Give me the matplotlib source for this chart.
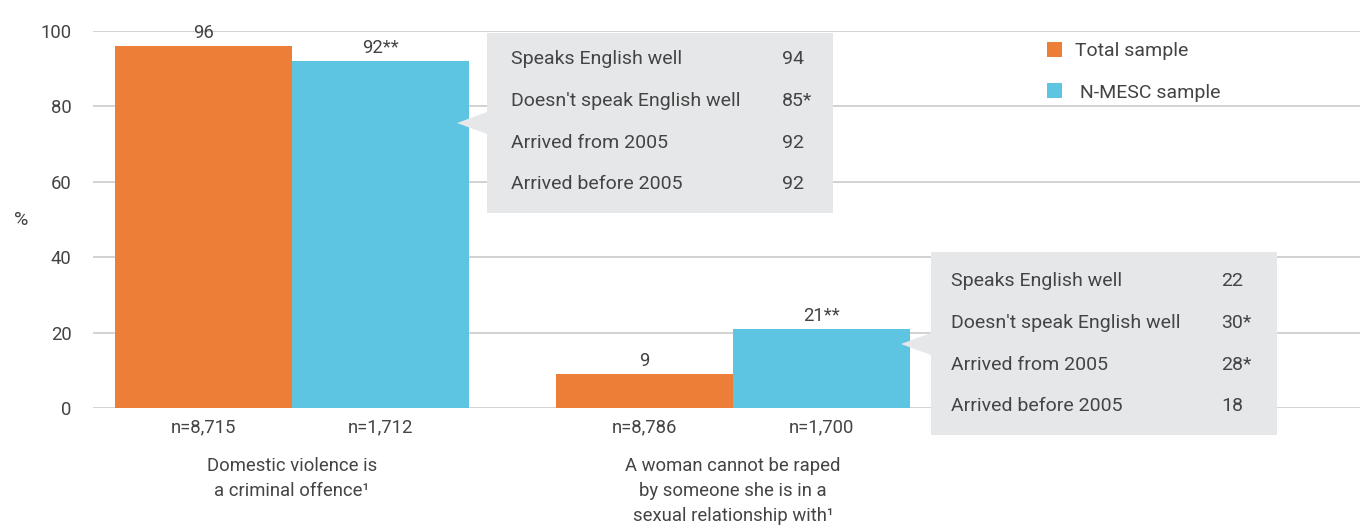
import matplotlib
matplotlib.use("Agg")
import matplotlib.pyplot as plt
from matplotlib.patches import Polygon, Patch
import numpy as np

plt.rcParams["font.family"] = ["Roboto", "DejaVu Sans"]

# data
categories = ["Domestic violence is\na criminal offence\u00b9",
              "A woman cannot be raped\nby someone she is in a\nsexual relationship with\u00b9"]
total = [96, 9]
nmesc = [92, 21]
total_labels = ["96", "9"]
nmesc_labels = ["92**", "21**"]
n_total = ["n=8,715", "n=8,786"]
n_nmesc = ["n=1,712", "n=1,700"]
callout_rows = ["Speaks English well", "Doesn't speak English well",
                "Arrived from 2005", "Arrived before 2005"]
callout_1 = ["94", "85*", "92", "92"]
callout_2 = ["22", "30*", "28*", "18"]

ORANGE = "#ec7e37"
BLUE = "#5dc4e1"
GREY_BOX = "#e6e7e9"
TXT = "#444444"
GRID = "#cfcfcf"

W, H = 1360, 525
fig = plt.figure(figsize=(W / 100, H / 100), dpi=100)


def px(x, y):
    return (x / W, 1 - y / H)


ax = fig.add_axes([93 / W, (H - 408) / H, (W - 93) / W, 377 / H])
x = np.arange(len(categories))
bw = 0.401
ax.bar(x - bw / 2, total, bw, color=ORANGE, zorder=2)
ax.bar(x + bw / 2, nmesc, bw, color=BLUE, zorder=2)
ax.set_xlim(-0.451, 2.422)
ax.set_ylim(0, 100)
ax.set_yticks(range(0, 101, 20))
ax.set_xticks([])
ax.yaxis.grid(True, color=GRID, linewidth=1.3, zorder=0)
ax.set_axisbelow(True)
for s in ax.spines.values():
    s.set_visible(False)
ax.tick_params(axis="y", length=0, pad=15.5, labelsize=13.3, labelcolor=TXT)
for lab in ax.get_yticklabels():
    lab.set_ha("right")

for i in range(len(categories)):
    ax.annotate(total_labels[i], (x[i] - bw / 2, total[i]), xytext=(0, 3),
                textcoords="offset points", ha="center", va="bottom",
                fontsize=13.3, color=TXT)
    ax.annotate(nmesc_labels[i], (x[i] + bw / 2, nmesc[i]), xytext=(0, 3),
                textcoords="offset points", ha="center", va="bottom",
                fontsize=13.3, color=TXT)
    ax.annotate(n_total[i], (x[i] - bw / 2, 0), xytext=(0, -14),
                textcoords="offset points", ha="center", va="center",
                fontsize=13.3, color=TXT)
    ax.annotate(n_nmesc[i], (x[i] + bw / 2, 0), xytext=(0, -14),
                textcoords="offset points", ha="center", va="center",
                fontsize=13.3, color=TXT)
    ax.annotate(categories[i], (x[i], 0), xytext=(0, -35),
                textcoords="offset points", ha="center", va="top",
                fontsize=13.3, color=TXT, linespacing=1.5)

fig.text(*px(21, 220), "%", ha="center", va="center", fontsize=14, color=TXT)


def callout(x0, y0, x1, y1, tip, base, values, dx_lab, dx_val, dy):
    box = Polygon([px(x0, y0), px(x1, y0), px(x1, y1), px(x0, y1),
                   px(x0, base[1]), px(*tip), px(x0, base[0])],
                  closed=True, transform=fig.transFigure, facecolor=GREY_BOX,
                  edgecolor="none", zorder=5)
    fig.patches.append(box)
    row_h = 41.8
    for j, (lab, val) in enumerate(zip(callout_rows, values)):
        yy = y0 + dy + j * row_h
        fig.text(*px(x0 + dx_lab, yy), lab, ha="left", va="center",
                 fontsize=14, color=TXT, zorder=6)
        fig.text(*px(x0 + dx_val, yy), val, ha="left", va="center",
                 fontsize=14, color=TXT, zorder=6)


callout(487, 33, 833, 213, (457, 123), (112, 134), callout_1, 24, 295, 26)
callout(931, 252, 1277, 435, (901, 344), (333, 355), callout_2, 20, 290, 29)

handles = [Patch(facecolor=ORANGE, edgecolor="none"),
           Patch(facecolor=BLUE, edgecolor="none")]
fig.legend(handles, ["Total sample", " N-MESC sample"], loc="upper left",
           bbox_to_anchor=px(1039, 34), frameon=False,
           labelcolor=TXT, handlelength=0.8, handleheight=0.8,
           handletextpad=0.65, labelspacing=1.2, borderaxespad=0,
           prop={"size": 14})

fig.savefig("out.png", dpi=100, facecolor="white")
